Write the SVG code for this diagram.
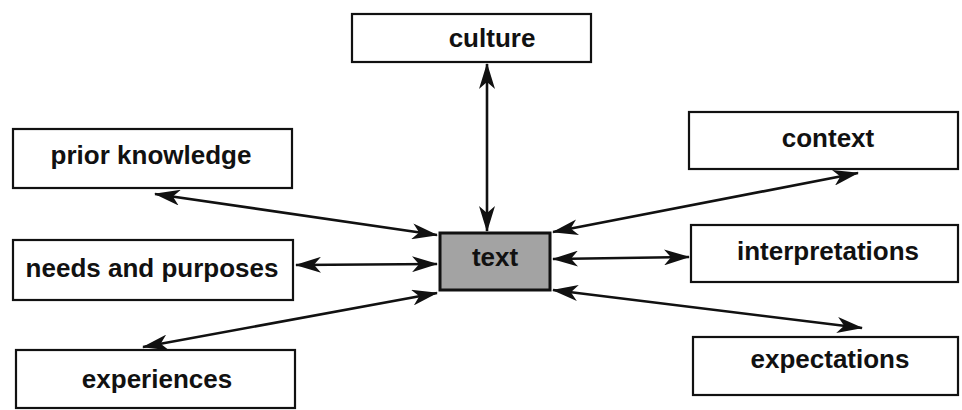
<svg xmlns="http://www.w3.org/2000/svg" width="962" height="410" viewBox="0 0 962 410">
<style>
.box{fill:#fff;stroke:#111;stroke-width:2.2}
.hub{fill:#a3a3a3;stroke:#111;stroke-width:3}
.lbl{font-family:"Liberation Sans",Arial,sans-serif;font-weight:bold;font-size:26px;fill:#111;text-anchor:middle}
.conn{stroke:#111;stroke-width:2.6;fill:none;marker-start:url(#ah);marker-end:url(#ah)}
</style>
<defs>
<marker id="ah" markerUnits="userSpaceOnUse" viewBox="0 0 26 16" refX="25" refY="8" markerWidth="26" markerHeight="16" orient="auto-start-reverse">
<path d="M0,0 L26,8 L0,16 L7,8 z" fill="#111"/>
</marker>
</defs>
<rect width="962" height="410" fill="#fff"/>
<g id="connectors">
<line class="conn" x1="487" y1="231" x2="487" y2="64"/>
<line class="conn" x1="437" y1="235" x2="155" y2="194"/>
<line class="conn" x1="437" y1="264" x2="296" y2="265"/>
<line class="conn" x1="437" y1="293" x2="143" y2="347"/>
<line class="conn" x1="553" y1="232" x2="858" y2="173"/>
<line class="conn" x1="553" y1="259" x2="689" y2="257"/>
<line class="conn" x1="553" y1="290" x2="862" y2="328"/>
</g>
<g id="culture"><rect class="box" x="352" y="14" width="239" height="48"/><text class="lbl" x="492" y="47">culture</text></g>
<g id="prior-knowledge"><rect class="box" x="13" y="129" width="279" height="59"/><text class="lbl" x="151" y="164">prior knowledge</text></g>
<g id="needs-and-purposes"><rect class="box" x="13" y="240" width="280" height="60"/><text class="lbl" x="152" y="277">needs and purposes</text></g>
<g id="experiences"><rect class="box" x="16" y="350" width="279" height="58"/><text class="lbl" x="157" y="388">experiences</text></g>
<g id="text"><rect class="hub" x="440" y="233" width="110" height="57"/><text class="lbl" x="495" y="266">text</text></g>
<g id="context"><rect class="box" x="689" y="112" width="269" height="57"/><text class="lbl" x="828" y="147">context</text></g>
<g id="interpretations"><rect class="box" x="691" y="225" width="267" height="57"/><text class="lbl" x="828" y="260">interpretations</text></g>
<g id="expectations"><rect class="box" x="693" y="337" width="265" height="58"/><text class="lbl" x="830" y="368">expectations</text></g>
</svg>
